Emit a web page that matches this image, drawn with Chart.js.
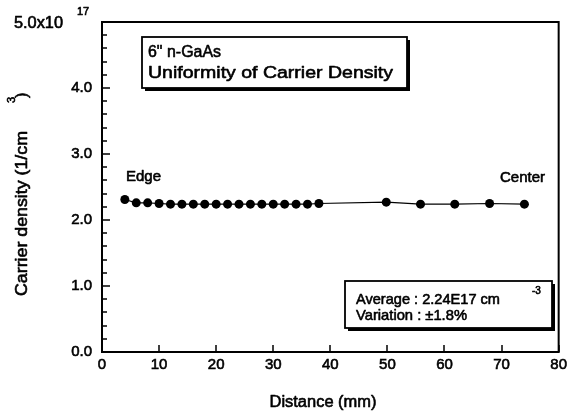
<!DOCTYPE html>
<html>
<head>
<meta charset="utf-8">
<script src="https://cdn.jsdelivr.net/npm/chart.js@4.4.0/dist/chart.umd.min.js"></script>
<style>
  html, body { margin: 0; padding: 0; background: #fff; }
  canvas { display: block; }
</style>
</head>
<body>
<canvas id="chart" width="571" height="413"></canvas>
<script>
// measured points, distance from wafer edge (mm)
const distance = [4, 6, 8, 10, 12, 14, 16, 18, 20, 22, 24, 26, 28, 30, 32, 34, 36, 38,
                  49.8, 55.8, 61.8, 67.9, 74];
// carrier density, x10^17 cm^-3
const density = [2.31, 2.26, 2.26, 2.25, 2.24, 2.24, 2.24, 2.24, 2.24, 2.24, 2.24, 2.24,
                 2.24, 2.24, 2.24, 2.24, 2.24, 2.25, 2.27, 2.24, 2.24, 2.25, 2.24];

const xMin = 0, xMax = 80, xStep = 10;
const yMin = 0, yMax = 5, yStep = 1;
const yTopLabel = '5.0x10';
const yTopExp = '17';
const FONT = '"Liberation Sans", Arial, sans-serif';
const INK = 0.6; // extra stroke so text looks like the scanned original

const points = distance.map((d, i) => ({ x: d, y: density[i] }));

// draw text, optionally stretched horizontally to a given width
function drawText(ctx, str, x, y, size, targetW, align) {
  ctx.save();
  ctx.font = size + 'px ' + FONT;
  ctx.textBaseline = 'alphabetic';
  ctx.textAlign = 'left';
  const w = ctx.measureText(str).width;
  let sx = 1;
  if (targetW) sx = targetW / w;
  let x0 = x;
  if (align === 'center') x0 = x - (w * sx) / 2;
  ctx.translate(x0, y);
  ctx.scale(sx, 1);
  ctx.fillStyle = '#000';
  ctx.strokeStyle = '#000';
  ctx.lineWidth = INK;
  ctx.lineJoin = 'round';
  ctx.fillText(str, 0, 0);
  ctx.strokeText(str, 0, 0);
  ctx.restore();
}

function shadowBox(ctx, x, y, w, h) {
  ctx.save();
  ctx.fillStyle = '#000';
  ctx.fillRect(x + 3, y + 3, w, h);
  ctx.fillStyle = '#fff';
  ctx.fillRect(x, y, w, h);
  ctx.strokeStyle = '#000';
  ctx.lineWidth = 1.8;
  ctx.strokeRect(x, y, w, h);
  ctx.restore();
}

const decorations = {
  id: 'decorations',
  afterDraw(chart) {
    const ctx = chart.ctx;
    const { left, right, top, bottom } = chart.chartArea;
    const xs = chart.scales.x, ys = chart.scales.y;
    ctx.save();
    ctx.fillStyle = '#000';
    ctx.strokeStyle = '#000';

    // frame
    ctx.lineWidth = 2;
    ctx.strokeRect(left, top, right - left, bottom - top);

    // inward ticks
    ctx.lineWidth = 1.5;
    ctx.beginPath();
    for (let v = xMin; v <= xMax; v += xStep) {
      const px = Math.round(xs.getPixelForValue(v));
      ctx.moveTo(px, bottom);
      ctx.lineTo(px, bottom - 7);
    }
    for (let i = 0; i <= (yMax - yMin) * 5; i++) {
      const py = Math.round(ys.getPixelForValue(yMin + i / 5));
      const len = i % 5 === 0 ? 8 : 5;
      ctx.moveTo(left, py);
      ctx.lineTo(left + len, py);
    }
    ctx.stroke();

    // top y label with exponent
    drawText(ctx, yTopLabel, 14, 28, 16, 49);
    drawText(ctx, yTopExp, 77, 15, 11);

    // y axis title (rotated)
    ctx.save();
    ctx.translate(27, 296);
    ctx.rotate(-Math.PI / 2);
    drawText(ctx, 'Carrier density (1/cm', 0, 0, 16, 165);
    drawText(ctx, '3', 193, -12, 11);
    drawText(ctx, ')', 198, 0, 16);
    ctx.restore();

    // x axis title
    drawText(ctx, 'Distance (mm)', 323, 407, 16, 107, 'center');

    // sample label box
    shadowBox(ctx, 142, 37, 265, 51);
    drawText(ctx, '6" n-GaAs', 148, 57, 17, 73);
    drawText(ctx, 'Uniformity of Carrier Density', 148, 78, 17, 245);

    // statistics box
    shadowBox(ctx, 345, 281, 207, 47);
    drawText(ctx, 'Average : 2.24E17 cm', 356, 304, 15, 144);
    drawText(ctx, '-3', 532, 294, 10);
    drawText(ctx, 'Variation : \u00b11.8%', 356, 320, 15, 111);

    // position labels
    drawText(ctx, 'Edge', 126, 181, 15);
    drawText(ctx, 'Center', 500, 182, 15);

    ctx.restore();
  }
};

new Chart(document.getElementById('chart'), {
  type: 'scatter',
  data: {
    datasets: [{
      data: points,
      showLine: true,
      borderColor: '#000',
      borderWidth: 1.2,
      pointRadius: 4.5,
      pointBackgroundColor: '#000',
      pointBorderColor: '#000',
      pointBorderWidth: 0
    }]
  },
  options: {
    responsive: false,
    animation: false,
    layout: { padding: { top: 22, right: 11, bottom: 0, left: 0 } },
    plugins: {
      legend: { display: false },
      tooltip: { enabled: false }
    },
    scales: {
      x: {
        type: 'linear',
        min: xMin,
        max: xMax,
        grid: { display: false, drawTicks: false },
        border: { display: false },
        ticks: {
          stepSize: xStep,
          padding: 4,
          color: '#000',
          textStrokeColor: '#000',
          textStrokeWidth: INK,
          font: { family: FONT, size: 15 },
          maxRotation: 0
        },
        afterFit(scale) { scale.height = 61; }
      },
      y: {
        type: 'linear',
        min: yMin,
        max: yMax,
        grid: { display: false, drawTicks: false },
        border: { display: false },
        ticks: {
          stepSize: yStep,
          padding: 10,
          color: '#000',
          textStrokeColor: '#000',
          textStrokeWidth: INK,
          font: { family: FONT, size: 15 },
          callback: v => (v === yMax ? '' : v.toFixed(1))
        },
        afterFit(scale) { scale.width = 102; }
      }
    }
  },
  plugins: [decorations]
});
</script>
</body>
</html>
